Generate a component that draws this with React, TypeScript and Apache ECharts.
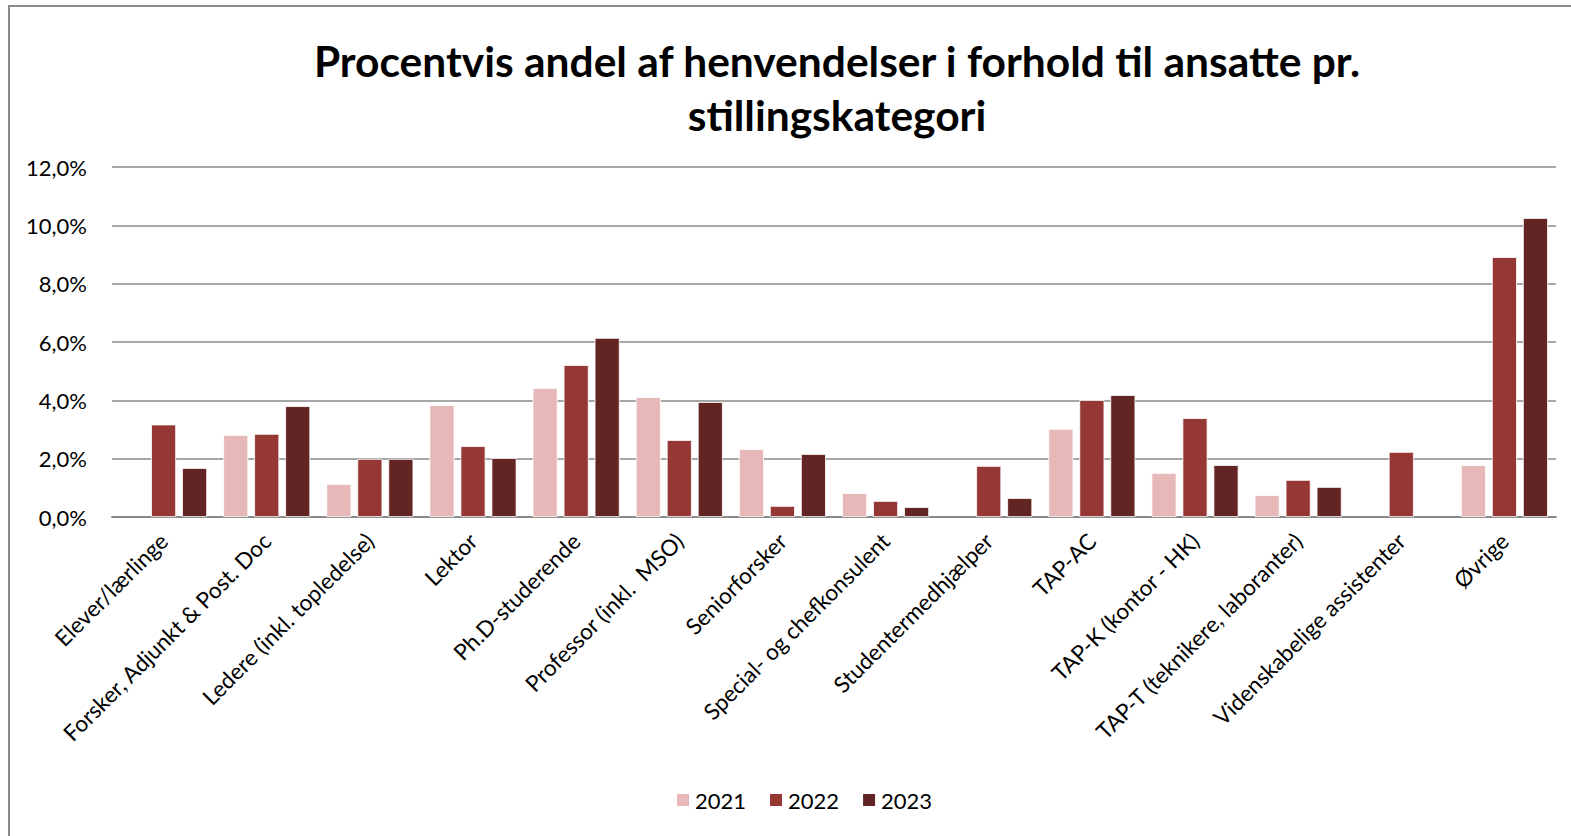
import React, { useEffect, useRef } from "react";
import * as echarts from "echarts";

const categories = [
  "Elever/lærlinge",
  "Forsker, Adjunkt & Post. Doc",
  "Ledere (inkl. topledelse)",
  "Lektor",
  "Ph.D-studerende",
  "Professor (inkl.  MSO)",
  "Seniorforsker",
  "Special- og chefkonsulent",
  "Studentermedhjælper",
  "TAP-AC",
  "TAP-K (kontor - HK)",
  "TAP-T (teknikere, laboranter)",
  "Videnskabelige assistenter",
  "Øvrige",
];

const years = ["2021", "2022", "2023"];
const colors = ["#E6B9B8", "#953735", "#632523"];

const values2021 = [null, 2.81, 1.13, 3.84, 4.42, 4.11, 2.33, 0.82, null, 3.02, 1.51, 0.75, null, 1.78];
const values2022 = [3.17, 2.85, 1.99, 2.43, 5.21, 2.64, 0.38, 0.55, 1.75, 4.01, 3.39, 1.27, 2.23, 8.91];
const values2023 = [1.68, 3.8, 1.99, 2.02, 6.14, 3.94, 2.16, 0.34, 0.65, 4.18, 1.78, 1.03, null, 10.25];

const seriesValues = [values2021, values2022, values2023];

const FONT = "Lato, 'Open Sans', sans-serif";

export default function App() {
  const ref = useRef<HTMLDivElement>(null);
  useEffect(() => {
    document.body.style.margin = "0";
    const chart = echarts.init(ref.current!, null, { renderer: "svg" });
    chart.setOption({
      animation: false,
      backgroundColor: "#ffffff",
      textStyle: { fontFamily: FONT },
      title: {
        text: "Procentvis andel af henvendelser i forhold til ansatte pr.\nstillingskategori",
        left: 832,
        textAlign: "center",
        top: 28,
        textStyle: {
          fontFamily: FONT,
          fontSize: 42.5,
          fontWeight: "bold",
          color: "#000000",
          lineHeight: 54,
        },
      },
      graphic: [
        {
          type: "rect",
          shape: { x: 9, y: 6, width: 1700, height: 1000 },
          style: { fill: "none", stroke: "#8a8a8a", lineWidth: 2 },
          silent: true,
        },
      ],
      legend: {
        bottom: 20,
        left: 670,
        itemWidth: 14,
        itemHeight: 14,
        itemGap: 22,
        icon: "rect",
        textStyle: { fontFamily: FONT, fontSize: 22, color: "#000" },
        data: years,
      },
      grid: { left: 112, right: 15, top: 167, bottom: 319, containLabel: false },
      xAxis: {
        type: "category",
        data: categories,
        axisLine: { lineStyle: { color: "#8a8a8a", width: 2 } },
        axisTick: { show: false },
        axisLabel: {
          rotate: 45,
          interval: 0,
          fontFamily: FONT,
          fontSize: 22.5,
          color: "#000",
          margin: 20,
        },
      },
      yAxis: {
        type: "value",
        min: 0,
        max: 12,
        interval: 2,
        axisLine: { show: false },
        axisTick: { show: false },
        splitLine: { lineStyle: { color: "#8a8a8a", width: 1.5 } },
        axisLabel: {
          formatter: (v: number) => v.toFixed(1).replace(".", ",") + "%",
          fontFamily: FONT,
          fontSize: 22,
          color: "#000",
          margin: 25,
        },
      },
      series: years.map((y, i) => ({
        name: y,
        type: "bar",
        data: seriesValues[i],
        barWidth: 25,
        barGap: "24%",
        itemStyle: { color: colors[i], borderColor: "#ffffff", borderWidth: 0.8 },
      })),
    });
    return () => chart.dispose();
  }, []);
  return <div ref={ref} style={{ width: 1571, height: 836, overflow: "hidden" }} />;
}
